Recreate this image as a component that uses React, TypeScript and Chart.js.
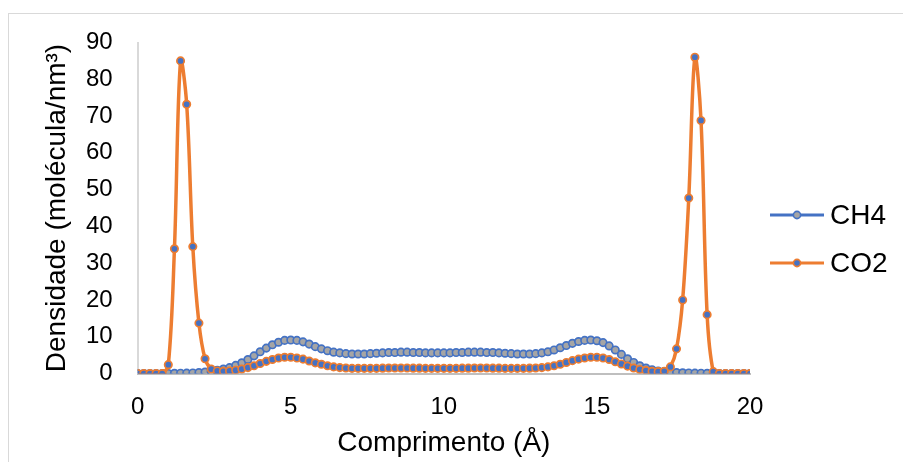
import React, { useEffect, useRef } from "react";
import { Chart, registerables } from "chart.js";

Chart.register(...registerables);

const xValues = [
  0, 0.2, 0.4, 0.6, 0.8, 1, 1.2, 1.4, 1.6, 1.8,
  2, 2.2, 2.4, 2.6, 2.8, 3, 3.2, 3.4, 3.6, 3.8,
  4, 4.2, 4.4, 4.6, 4.8, 5, 5.2, 5.4, 5.6, 5.8,
  6, 6.2, 6.4, 6.6, 6.8, 7, 7.2, 7.4, 7.6, 7.8,
  8, 8.2, 8.4, 8.6, 8.8, 9, 9.2, 9.4, 9.6, 9.8,
  10, 10.2, 10.4, 10.6, 10.8, 11, 11.2, 11.4, 11.6, 11.8,
  12, 12.2, 12.4, 12.6, 12.8, 13, 13.2, 13.4, 13.6, 13.8,
  14, 14.2, 14.4, 14.6, 14.8, 15, 15.2, 15.4, 15.6, 15.8,
  16, 16.2, 16.4, 16.6, 16.8, 17, 17.2, 17.4, 17.6, 17.8,
  18, 18.2, 18.4, 18.6, 18.8, 19, 19.2, 19.4, 19.6, 19.8,
  20,
];

const ch4Values = [
  0, 0, 0, 0, 0, 0.02, 0.05, 0.08, 0.1, 0.15,
  0.25, 0.4, 0.6, 0.9, 1.2, 1.6, 2.2, 2.9, 3.8, 4.8,
  5.9, 6.9, 7.8, 8.5, 9.0, 9.1, 9.0, 8.6, 8.0, 7.3,
  6.7, 6.2, 5.8, 5.6, 5.4, 5.3, 5.3, 5.3, 5.4, 5.5,
  5.6, 5.7, 5.7, 5.8, 5.8, 5.7, 5.7, 5.6, 5.6, 5.6,
  5.6, 5.6, 5.7, 5.7, 5.8, 5.8, 5.8, 5.7, 5.7, 5.6,
  5.5, 5.4, 5.3, 5.3, 5.3, 5.4, 5.6, 5.9, 6.4, 7.0,
  7.6, 8.2, 8.7, 9.0, 9.1, 8.9, 8.4, 7.5, 6.4, 5.2,
  4.0, 3.0, 2.1, 1.5, 1.0, 0.7, 0.5, 0.35, 0.25, 0.2,
  0.15, 0.1, 0.08, 0.05, 0.02, 0, 0, 0, 0, 0,
  0,
];

const co2Values = [
  0, 0, 0, 0, 0, 2.4, 33.9, 85, 73.2, 34.5,
  13.7, 4.0, 1.2, 0.7, 0.6, 0.7, 0.9, 1.2, 1.6, 2.1,
  2.7, 3.3, 3.8, 4.2, 4.4, 4.4, 4.2, 3.9, 3.4, 2.9,
  2.5, 2.1, 1.8, 1.6, 1.5, 1.4, 1.4, 1.4, 1.4, 1.4,
  1.45, 1.5, 1.5, 1.5, 1.5, 1.45, 1.45, 1.4, 1.4, 1.4,
  1.4, 1.4, 1.4, 1.45, 1.45, 1.5, 1.5, 1.5, 1.45, 1.45,
  1.4, 1.4, 1.4, 1.4, 1.45, 1.5, 1.6, 1.8, 2.1, 2.5,
  3.0, 3.5, 3.9, 4.2, 4.4, 4.4, 4.2, 3.8, 3.2, 2.6,
  2.0, 1.5, 1.1, 0.8, 0.6, 0.5, 0.6, 1.8, 6.7, 20,
  47.7, 86, 68.8, 16, 0.5, 0, 0, 0, 0, 0,
  0,
];

const seriesLabels = ["CH4", "CO2"];
const xTitle = "Comprimento (Å)";
const yTitle = "Densidade (molécula/nm³)";
const xTickValues = [0, 5, 10, 15, 20];
const yTickValues = [0, 10, 20, 30, 40, 50, 60, 70, 80, 90];

const FONT = "'Liberation Sans', Arial, sans-serif";

export default function App() {
  const ref = useRef<HTMLCanvasElement>(null);

  useEffect(() => {
    if (!ref.current) return;

    const legendPlugin = {
      id: "lineLegend",
      afterDraw(chart: any) {
        const ctx = chart.ctx;
        const ys = [215, 263];
        chart.data.datasets.forEach((ds: any, i: number) => {
          const y = ys[i];
          ctx.save();
          ctx.strokeStyle = ds.borderColor;
          ctx.lineWidth = 3;
          ctx.beginPath();
          ctx.moveTo(770, y);
          ctx.lineTo(824, y);
          ctx.stroke();
          ctx.beginPath();
          ctx.arc(797, y, 3.6, 0, Math.PI * 2);
          ctx.fillStyle = ds.pointBackgroundColor;
          ctx.fill();
          ctx.lineWidth = 1.6;
          ctx.strokeStyle = ds.pointBorderColor;
          ctx.stroke();
          ctx.fillStyle = "#000";
          ctx.font = `28px ${FONT}`;
          ctx.textBaseline = "middle";
          ctx.textAlign = "left";
          ctx.fillText(ds.label, 830, y + 1);
          ctx.restore();
        });
      },
    };

    const chart = new Chart(ref.current, {
      type: "line",
      data: {
        datasets: [
          {
            label: seriesLabels[0],
            data: xValues.map((x, i) => ({ x, y: ch4Values[i] })),
            borderColor: "#4472C4",
            backgroundColor: "#4472C4",
            borderWidth: 3,
            pointRadius: 3.7,
            pointBorderWidth: 1.7,
            pointBackgroundColor: "#A5A5A5",
            pointBorderColor: "#4472C4",
            tension: 0.35,
            order: 1,
          },
          {
            label: seriesLabels[1],
            data: xValues.map((x, i) => ({ x, y: co2Values[i] })),
            borderColor: "#ED7D31",
            backgroundColor: "#ED7D31",
            borderWidth: 3.5,
            pointRadius: 3.7,
            pointBorderWidth: 1.7,
            pointBackgroundColor: "#4472C4",
            pointBorderColor: "#ED7D31",
            tension: 0.35,
            order: 0,
          },
        ],
      },
      options: {
        responsive: false,
        animation: false,
        devicePixelRatio: 1,
        layout: { padding: { left: 20, right: 153, top: 42.5, bottom: 0 } },
        plugins: {
          legend: { display: false },
          tooltip: { enabled: false },
        },
        scales: {
          x: {
            type: "linear",
            min: 0,
            max: 20,
            afterFit: (scale: any) => {
              scale.height = 88.5;
            },
            afterBuildTicks: (scale: any) => {
              scale.ticks = xTickValues.map((v) => ({ value: v }));
            },
            ticks: {
              padding: 19,
              color: "#000",
              font: { family: FONT, size: 24 },
              maxRotation: 0,
            },
            grid: { display: false, drawTicks: false },
            border: { display: true, color: "#BFBFBF", width: 2 },
            title: {
              display: true,
              text: xTitle,
              color: "#000",
              font: { family: FONT, size: 28 },
              padding: { top: 0, bottom: 2 },
            },
          },
          y: {
            type: "linear",
            min: 0,
            max: 90,
            afterFit: (scale: any) => {
              scale.width = 117.7;
            },
            afterBuildTicks: (scale: any) => {
              scale.ticks = yTickValues.map((v) => ({ value: v }));
            },
            ticks: {
              padding: 25,
              color: "#000",
              font: { family: FONT, size: 24 },
            },
            grid: { display: false, drawTicks: false },
            border: { display: true, color: "#D9D9D9", width: 2 },
            title: {
              display: true,
              text: yTitle,
              color: "#000",
              font: { family: FONT, size: 28 },
              padding: { top: 20, bottom: 0 },
            },
          },
        },
      },
      plugins: [legendPlugin],
    } as any);

    return () => chart.destroy();
  }, []);

  return (
    <>
      <div
        style={{
          position: "fixed",
          left: 8,
          top: 13,
          width: 2000,
          height: 2000,
          border: "1px solid #D9D9D9",
        }}
      />
      <canvas
        ref={ref}
        width={903}
        height={462}
        style={{ position: "fixed", left: 0, top: 0, width: 903, height: 462 }}
      />
    </>
  );
}
